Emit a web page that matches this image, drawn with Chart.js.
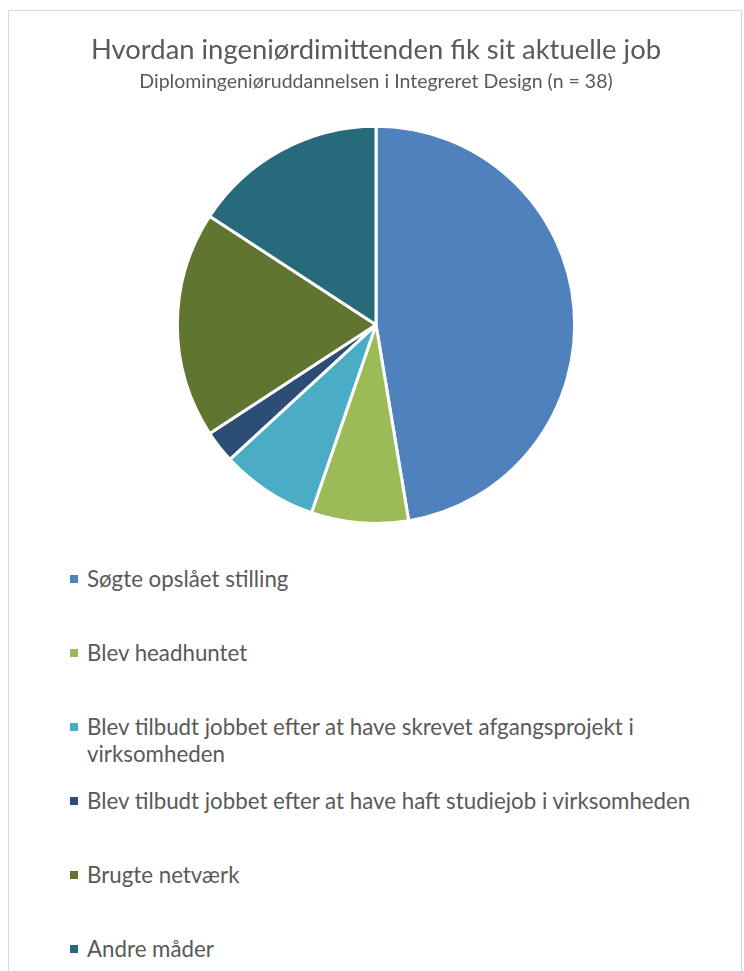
<!DOCTYPE html>
<html>
<head>
<meta charset="utf-8">
<script src="https://cdn.jsdelivr.net/npm/chart.js@4.4.0/dist/chart.umd.min.js"></script>
<style>
    body { margin: 0; background: #fff; font-family: Lato, "Open Sans", sans-serif; }
    #frame { position: absolute; left: 8px; top: 10px; width: 732px; height: 1000px; border: 1px solid #d9d9d9; }
    #chart-box { position: absolute; left: 10px; top: 11px; width: 732px; height: 530px; }
    #legend { position: absolute; left: 70px; top: 565px; margin: 0; padding: 0; list-style: none; color: #595959; font-size: 22.3px; line-height: 27px; }
    #legend li { position: relative; padding-left: 17px; height: 74px; white-space: nowrap; }
    #legend li span.box { position: absolute; left: 0; top: 10px; width: 8px; height: 8px; }
</style>
</head>
<body>
<div id="frame"></div>
<div id="chart-box"><canvas id="job-pie"></canvas></div>
<ul id="legend"></ul>
<script>
let categories = [
    'Søgte opslået stilling',
    'Blev headhuntet',
    ['Blev tilbudt jobbet efter at have skrevet afgangsprojekt i', 'virksomheden'],
    'Blev tilbudt jobbet efter at have haft studiejob i virksomheden',
    'Brugte netværk',
    'Andre måder'
];
let counts = [18, 3, 3, 1, 7, 6];
let sliceColors = ['#4f81bd', '#9bbb59', '#4bacc6', '#2c4d75', '#5f7530', '#276a7c'];

var ctx = document.getElementById('job-pie');
var data = {
    labels: categories,
    datasets: [{
        label: "Antal",
        data: counts,
        backgroundColor: sliceColors,
        borderColor: '#ffffff',
        borderWidth: 3
    }]
};

var options = {
    responsive: true,
    maintainAspectRatio: false,
    animation: false,
    layout: {
        padding: { top: 0, bottom: 16 }
    },
    plugins: {
        legend: { display: false },
        title: {
            display: true,
            text: 'Hvordan ingeniørdimittenden fik sit aktuelle job',
            color: '#595959',
            font: { family: 'Lato', size: 27.4, weight: 'normal' },
            padding: { top: 22.6, bottom: 0 }
        },
        subtitle: {
            display: true,
            text: 'Diplomingeniøruddannelsen i Integreret Design (n = 38)',
            color: '#595959',
            font: { family: 'Lato', size: 19.5, weight: 'normal' },
            padding: { top: 3.8, bottom: 31 }
        }
    }
};

var jobPieChart = new Chart(ctx, {
    type: 'pie',
    data: data,
    options: options
});

// legend as html so the long label can wrap like the original
let legendList = document.getElementById('legend');
jobPieChart.options.plugins.legend.labels.generateLabels(jobPieChart).forEach(item => {
    let li = document.createElement('li');
    let box = document.createElement('span');
    box.className = 'box';
    box.style.background = item.fillStyle;
    li.appendChild(box);
    let text = Array.isArray(item.text) ? item.text : [item.text];
    text.forEach((line, i) => {
        if (i > 0) li.appendChild(document.createElement('br'));
        li.appendChild(document.createTextNode(line));
    });
    legendList.appendChild(li);
});
</script>
</body>
</html>
